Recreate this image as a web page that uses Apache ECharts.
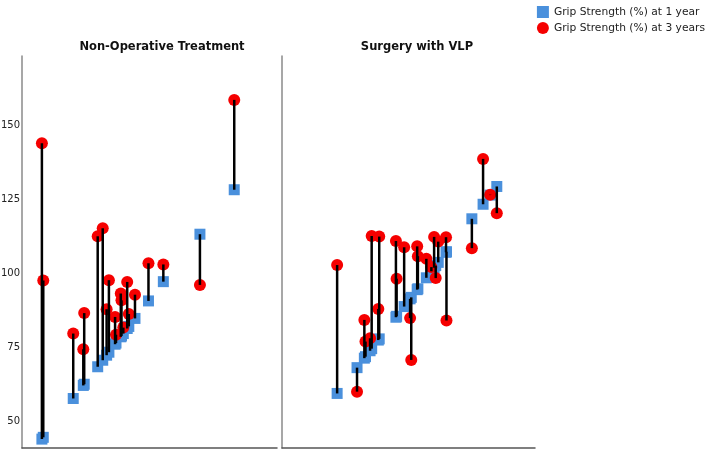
<!DOCTYPE html>
<html>
<head>
<meta charset="utf-8">
<script src="https://cdn.jsdelivr.net/npm/echarts@6/dist/echarts.min.js"></script>
<style>
  html, body { margin: 0; padding: 0; background: #fff; }
  #main { width: 712px; height: 450px; }
</style>
</head>
<body>
<div id="main"></div>
<script>
// grip strength per patient, x position = value at 1 year
var panelTitles = ['Non-Operative Treatment', 'Surgery with VLP'];
var seriesNames = ['Grip Strength (%) at 1 year', 'Grip Strength (%) at 3 years'];
var yTicks = [50, 75, 100, 125, 150];

var nonOpOneYear = [44.2, 44.8, 57.9, 62.7, 62.3, 68.6, 70.8, 72.5, 73.5, 76.2, 76.6,
  78.7, 79.0, 79.8, 81.5, 82.2, 84.9, 90.8, 97.3, 113.3, 128.3];
var nonOpThreeYear = [144.0, 97.7, 79.8, 86.7, 74.5, 112.6, 115.3, 88.0, 97.8, 85.4, 79.4,
  93.3, 91.0, 81.8, 97.2, 86.4, 92.9, 103.5, 103.1, 96.2, 158.6];

var vlpOneYear = [59.6, 68.3, 71.5, 72.0, 74.0, 74.7, 77.6, 78.0, 85.3, 85.6, 88.9, 91.5, 92.0,
  94.6, 94.9, 98.6, 100.8, 102.0, 102.7, 103.8, 107.2, 107.4, 118.5, 123.4, 126.5, 129.4];
var vlpThreeYear = [102.9, 60.2, 84.4, 77.1, 78.2, 112.7, 88.1, 112.5, 111.0, 98.3, 108.9, 85.0, 70.9,
  109.2, 105.9, 105.0, 102.2, 112.4, 98.5, 110.8, 112.3, 84.2, 108.6, 138.7, 126.6, 120.4];

var groups = [
  { one: nonOpOneYear, three: nonOpThreeYear },
  { one: vlpOneYear, three: vlpThreeYear }
];

var blue = '#4a90dc';
var red = '#f50000';
var fontFam = 'DejaVu Sans';

var series = [];
groups.forEach(function (g, i) {
  series.push({
    name: seriesNames[0],
    type: 'scatter',
    xAxisIndex: i, yAxisIndex: i,
    symbol: 'rect', symbolSize: 11,
    itemStyle: { color: blue, opacity: 1 },
    z: 2,
    data: g.one.map(function (v) { return [v, v]; })
  });
  series.push({
    name: seriesNames[1],
    type: 'scatter',
    xAxisIndex: i, yAxisIndex: i,
    symbol: 'circle', symbolSize: 12,
    itemStyle: { color: red, opacity: 1 },
    z: 3,
    data: g.one.map(function (v, k) { return [v, g.three[k]]; })
  });
  series.push({
    type: 'custom',
    xAxisIndex: i, yAxisIndex: i,
    z: 4,
    silent: true,
    encode: { x: 0, y: [1, 2] },
    data: g.one.map(function (v, k) { return [v, v, g.three[k]]; }),
    renderItem: function (params, api) {
      var a = api.coord([api.value(0), api.value(1)]);
      var b = api.coord([api.value(0), api.value(2)]);
      return {
        type: 'line',
        shape: { x1: a[0], y1: a[1], x2: b[0], y2: b[1] },
        style: { stroke: '#000', lineWidth: 2.5 }
      };
    }
  });
});

function yAxis(showLabels) {
  return {
    type: 'value', min: 41.2, max: 173.4,
    gridIndex: showLabels ? 0 : 1,
    splitLine: { show: false },
    axisTick: { show: false },
    axisLine: { show: true, lineStyle: { color: '#8a8a8a', width: 1.5 } },
    axisLabel: {
      show: showLabels, customValues: yTicks, margin: 2,
      color: '#222', fontSize: 10, fontFamily: fontFam
    }
  };
}

function xAxis(idx, max) {
  return {
    type: 'value', gridIndex: idx, min: 35.5, max: max,
    splitLine: { show: false },
    axisTick: { show: false },
    axisLabel: { show: false },
    axisLine: { show: true, onZero: false, lineStyle: { color: '#555', width: 1.5 } }
  };
}

var chart = echarts.init(document.getElementById('main'));
chart.setOption({
  animation: false,
  backgroundColor: '#fff',
  title: [
    { text: panelTitles[0], left: 157, top: 36, textAlign: 'center',
      textStyle: { fontSize: 11.5, fontWeight: 'bold', color: '#111', fontFamily: fontFam } },
    { text: panelTitles[1], left: 412, top: 36, textAlign: 'center',
      textStyle: { fontSize: 11.5, fontWeight: 'bold', color: '#111', fontFamily: fontFam } }
  ],
  legend: {
    data: [
      { name: seriesNames[0], icon: 'rect' },
      { name: seriesNames[1], icon: 'circle' }
    ],
    orient: 'vertical', right: 2, top: 1,
    itemWidth: 12, itemHeight: 12, itemGap: 4,
    selectedMode: false,
    textStyle: { fontSize: 10.7, color: '#222', fontFamily: fontFam, padding: [0, 0, 0, 0] }
  },
  grid: [
    { left: 22, top: 56, width: 255, height: 392, outerBoundsMode: 'none' },
    { left: 282, top: 56, width: 253, height: 392, outerBoundsMode: 'none' }
  ],
  xAxis: [xAxis(0, 147), xAxis(1, 146.1)],
  yAxis: [yAxis(true), yAxis(false)],
  series: series
});
</script>
</body>
</html>
